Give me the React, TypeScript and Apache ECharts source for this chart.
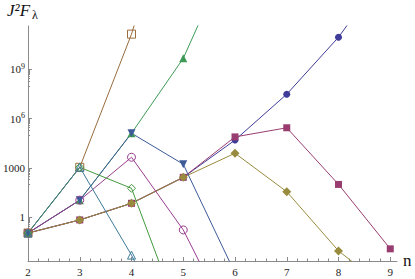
import React, { useEffect, useRef } from 'react';
import * as echarts from 'echarts';

// n values (x positions of the points)
const nValues = [2, 3, 4, 5, 6, 7, 8, 9];

// Series values J^2 F_lambda (index 0 -> n = 2)
const blueCircle = [0.11, 0.69, 7.1, 270, 5.0e4, 3.1e7, 9.1e10, 2e15];
const magentaSquare = [0.11, 0.69, 7.1, 270, 7.8e4, 2.8e5, 100, 0.012];
const oliveDiamond = [0.11, 0.69, 7.1, 270, 7.9e3, 36, 0.009, 3e-5];
const greenTriangle = [0.11, 11, 1.3e5, 4.7e9, 5e16];
const blueDownTriangle = [0.11, 11, 1.3e5, 1.7e3, 4e-4];
const violetOpenCircle = [0.11, 11, 4.5e3, 0.17, 1e-7];
const brownOpenSquare = [0.11, 1100, 1.4e11, 2.5e21];
const greenOpenDiamond = [0.11, 1100, 58, 2.2e-7];
const cyanOpenTriangle = [0.11, 1100, 0.005, 2e-9];

// axis ticks
const xTicks = [2, 3, 4, 5, 6, 7, 8, 9];
const yTickExponents = [0, 3, 6, 9];
const yLabels = ['1', '1000', '10^6', '10^9'];

const X_MIN = 2;
const X_MAX = 9.13;
const Y_MIN = -2.66;
const Y_MAX = 11.64;

const SERIF = 'Liberation Serif';

type Def = {
  values: number[];
  color: string;
  symbol: string;
  size: number;
  filled: boolean;
  rotate?: number;
};

const defs: Def[] = [
  { values: blueCircle, color: '#3f3d99', symbol: 'circle', size: 7, filled: true },
  { values: magentaSquare, color: '#993d71', symbol: 'rect', size: 7, filled: true },
  { values: oliveDiamond, color: '#998b3d', symbol: 'diamond', size: 9, filled: true },
  { values: greenTriangle, color: '#3d9956', symbol: 'triangle', size: 8, filled: true },
  { values: blueDownTriangle, color: '#3d5a99', symbol: 'triangle', size: 8, filled: true, rotate: 180 },
  { values: violetOpenCircle, color: '#993d8f', symbol: 'circle', size: 8, filled: false },
  { values: brownOpenSquare, color: '#996d3d', symbol: 'rect', size: 8, filled: false },
  { values: greenOpenDiamond, color: '#43993d', symbol: 'diamond', size: 8, filled: false },
  { values: cyanOpenTriangle, color: '#3d7999', symbol: 'triangle', size: 8, filled: false },
];

export default function App() {
  const ref = useRef<HTMLDivElement>(null);

  useEffect(() => {
    if (!ref.current) return;
    const chart = echarts.init(ref.current, undefined, { renderer: 'svg' });

    const yMinor: number[] = [];
    yTickExponents.forEach((m) => {
      for (let k = 1; k <= 9; k++) {
        const v = Math.log10(k) + m - 1;
        if (v > Y_MIN && v < Y_MAX) yMinor.push(v);
      }
    });
    const xMinor: number[] = [];
    for (let i = 0; i < xTicks.length - 1; i++) {
      for (let j = 1; j < 5; j++) xMinor.push(xTicks[i] + j * 0.2);
    }

    const axisColor = '#8a8a8a';
    const labelColor = '#222';

    const series = defs.map((d) => ({
      type: 'line',
      xAxisIndex: 0,
      yAxisIndex: 0,
      data: d.values.map((v, i) => [nValues[i], Math.log10(v)]),
      symbol: d.symbol,
      symbolSize: d.size,
      symbolRotate: d.rotate || 0,
      clip: true,
      lineStyle: { color: d.color, width: 1 },
      itemStyle: d.filled
        ? { color: d.color, borderWidth: 0 }
        : { color: 'rgba(255,255,255,0)', borderColor: d.color, borderWidth: 1 },
      emphasis: { disabled: true },
    }));

    chart.setOption({
      animation: false,
      backgroundColor: '#ffffff',
      grid: { left: 24, right: 18, top: 26, bottom: 18, containLabel: false },
      xAxis: [
        {
          type: 'value',
          min: X_MIN,
          max: X_MAX,
          interval: 1,
          axisLine: { show: true, onZero: false, lineStyle: { color: axisColor, width: 1 } },
          axisTick: {
            show: true,
            inside: true,
            length: 4,
            customValues: xTicks,
            lineStyle: { color: axisColor },
          },
          axisLabel: {
            customValues: xTicks,
            margin: 5,
            fontFamily: SERIF,
            fontSize: 11,
            color: labelColor,
          },
          splitLine: { show: false },
        },
        {
          type: 'value',
          position: 'bottom',
          offset: 0,
          min: X_MIN,
          max: X_MAX,
          axisLine: { show: false, onZero: false },
          axisTick: {
            show: true,
            inside: true,
            length: 2.5,
            customValues: xMinor,
            lineStyle: { color: axisColor },
          },
          axisLabel: { show: false },
          splitLine: { show: false },
        },
      ],
      yAxis: [
        {
          type: 'value',
          min: Y_MIN,
          max: Y_MAX,
          axisLine: { show: true, onZero: false, lineStyle: { color: axisColor, width: 1 } },
          axisTick: {
            show: true,
            inside: true,
            length: 4,
            customValues: yTickExponents,
            lineStyle: { color: axisColor },
          },
          axisLabel: {
            customValues: yTickExponents,
            margin: 3,
            fontFamily: SERIF,
            fontSize: 11,
            color: labelColor,
            formatter: (v: number) => {
              const idx = yTickExponents.findIndex((e) => Math.abs(e - v) < 1e-6);
              const lab = idx >= 0 ? yLabels[idx] : '';
              if (lab.indexOf('^') >= 0) {
                const parts = lab.split('^');
                return parts[0] + '{sup|' + parts[1] + '}';
              }
              return lab;
            },
            rich: {
              sup: { fontFamily: SERIF, fontSize: 8, color: labelColor, padding: [0, 0, 6, 0] },
            },
          },
          splitLine: { show: false },
        },
        {
          type: 'value',
          position: 'left',
          offset: 0,
          min: Y_MIN,
          max: Y_MAX,
          axisLine: { show: false, onZero: false },
          axisTick: {
            show: true,
            inside: true,
            length: 2,
            customValues: yMinor,
            lineStyle: { color: axisColor },
          },
          axisLabel: { show: false },
          splitLine: { show: false },
        },
      ],
      graphic: [
        {
          type: 'text',
          left: 7,
          top: 2,
          style: {
            text: 'J²F',
            fontFamily: SERIF,
            fontSize: 17,
            fontStyle: 'italic',
            fill: '#111',
          },
        },
        {
          type: 'text',
          left: 32,
          top: 9,
          style: {
            text: 'λ',
            fontFamily: SERIF,
            fontSize: 12,
            fill: '#111',
          },
        },
        {
          type: 'text',
          left: 403,
          top: 252,
          style: {
            text: 'n',
            fontFamily: SERIF,
            fontSize: 17,
            fill: '#111',
          },
        },
      ],
      series,
    } as any);

    return () => chart.dispose();
  }, []);

  return (
    <div
      ref={ref}
      style={{ position: 'fixed', left: 0, top: 0, width: 415, height: 279, background: '#fff' }}
    />
  );
}
